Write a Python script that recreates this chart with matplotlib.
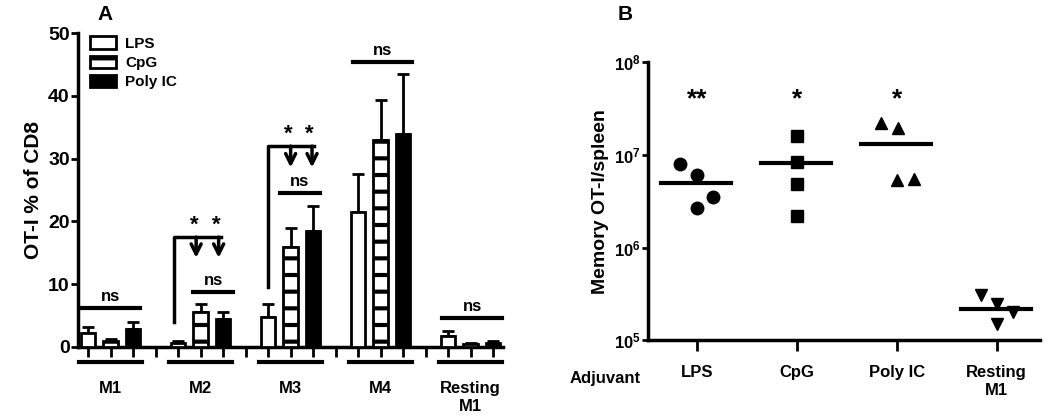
import matplotlib.pyplot as plt
import matplotlib.transforms as mtransforms
from matplotlib.patches import Patch
import numpy as np

plt.rcParams['font.family'] = ['Liberation Sans', 'DejaVu Sans']
plt.rcParams['font.weight'] = 'bold'
plt.rcParams['mathtext.default'] = 'bf'
plt.rcParams['hatch.linewidth'] = 3.0

# Panel A data (OT-I % of CD8)
groups = ["M1", "M2", "M3", "M4", "Resting\nM1"]
adjuvants = ["LPS", "CpG", "Poly IC"]
lps_mean = [2.2, 0.7, 4.8, 21.5, 1.8]
lps_err = [0.9, 0.2, 2.0, 6.0, 0.8]
cpg_mean = [1.0, 5.5, 16.0, 33.0, 0.5]
cpg_err = [0.2, 1.3, 3.0, 6.3, 0.2]
poly_mean = [2.8, 4.5, 18.5, 34.0, 0.7]
poly_err = [1.2, 1.0, 4.0, 9.5, 0.3]

# Panel B data (memory OT-I per spleen)
b_categories = ["LPS", "CpG", "Poly IC", "Resting\nM1"]
b_lps = [8.0e6, 6.0e6, 2.7e6, 3.5e6]
b_cpg = [1.6e7, 8.3e6, 4.9e6, 2.2e6]
b_poly = [2.2e7, 1.95e7, 5.4e6, 5.5e6]
b_rest = [3.1e5, 2.45e5, 2.0e5, 1.5e5]
b_median = [5.0e6, 8.1e6, 1.3e7, 2.15e5]
b_stars = ["**", "*", "*", ""]

fig = plt.figure(figsize=(10.5, 4.2), dpi=100)

# ---------------- Panel A ----------------
ax = fig.add_axes([0.0743, 0.174, 0.405, 0.747])
lw = 2.5
slot = 4  # 3 bars + 1 gap per group
base = np.arange(len(groups)) * slot
w = 0.65

series = [
    (lps_mean, lps_err, dict(facecolor="white", edgecolor="black")),
    (cpg_mean, cpg_err, dict(facecolor="white", edgecolor="black", hatch="-")),
    (poly_mean, poly_err, dict(facecolor="black", edgecolor="black")),
]
for i, (m, e, style) in enumerate(series):
    x = base + i
    ax.bar(x, m, width=w, linewidth=2, zorder=3, **style)
    ax.errorbar(x, m, yerr=[np.zeros(len(m)), e], fmt="none", ecolor="black",
                elinewidth=2, capsize=4, capthick=2, zorder=2)

ax.set_xlim(-0.45, 18.45)
ax.set_ylim(0, 50)
ax.set_yticks([0, 10, 20, 30, 40, 50])
ax.set_xticks(np.arange(19))
ax.set_xticklabels([])
ax.tick_params(axis="x", direction="out", length=7, width=2)
ax.tick_params(axis="y", direction="out", length=5, width=2, labelsize=14, pad=1)
for lab in ax.get_yticklabels():
    lab.set_fontweight("bold")
ax.spines["top"].set_visible(False)
ax.spines["right"].set_visible(False)
ax.spines["left"].set_linewidth(lw)
ax.spines["bottom"].set_linewidth(lw)
ax.set_ylabel("OT-I % of CD8", fontsize=15, fontweight="bold", labelpad=4)

# group underlines and labels below the axis
trans = mtransforms.blended_transform_factory(ax.transData, ax.transAxes)
for g, b0 in zip(groups, base):
    ax.plot([b0 - 0.4, b0 + 2.4], [-0.048, -0.048], color="black", lw=3,
            transform=trans, clip_on=False)
    ax.text(b0 + 1, -0.11, g, transform=trans, ha="center", va="top",
            fontsize=12, fontweight="bold", linespacing=1.2)

# ns bars
ns_bars = [(-0.27, 2.3, 6.2), (4.67, 6.44, 8.8), (8.53, 10.3, 24.5),
           (11.78, 14.4, 45.4), (15.73, 18.4, 4.6)]
for x0, x1, y in ns_bars:
    ax.plot([x0, x1], [y, y], color="black", lw=3, clip_on=False)
    ax.text((x0 + x1) / 2, y + 0.6, "ns", ha="center", va="bottom",
            fontsize=12, fontweight="bold")

# significance brackets with arrows
brackets = [(3.8, [4.8, 5.8], 4.0, 17.5, 14.2),
            (8.0, [9.0, 9.95], 9.6, 32.0, 28.6)]
for xv, arrows, ylow, ytop, yend in brackets:
    ax.plot([xv, xv, arrows[-1] + 0.1], [ylow, ytop, ytop], color="black", lw=2.5)
    for xa in arrows:
        ax.annotate("", xy=(xa, yend), xytext=(xa, ytop),
                    arrowprops=dict(arrowstyle="->", lw=2.5, color="black",
                                    mutation_scale=18, shrinkA=0, shrinkB=0))
        ax.text(xa - 0.1, ytop + 0.3, "*", ha="center", va="bottom",
                fontsize=16, fontweight="bold")

leg_handles = [Patch(facecolor="white", edgecolor="black", linewidth=2),
               Patch(facecolor="white", edgecolor="black", linewidth=2, hatch="-"),
               Patch(facecolor="black", edgecolor="black", linewidth=2)]
ax.legend(leg_handles, adjuvants, loc="upper left", bbox_to_anchor=(0.028, 0.99),
          frameon=False, borderpad=0, borderaxespad=0, handlelength=1.7,
          handleheight=0.9, labelspacing=0.3, handletextpad=0.6,
          prop=dict(size=11, weight="bold"))

fig.text(0.1, 0.965, "A", fontsize=15, fontweight="bold", ha="center", va="center")

# ---------------- Panel B ----------------
bx = fig.add_axes([0.617, 0.19, 0.373, 0.662])
bx.set_yscale("log")
bx.set_ylim(1e5, 1e8)
bx.set_xlim(-0.49, 3.43)

ms = 9
jitter_lps = np.array([-0.17, 0, 0, 0.16])
jitter_cpg = np.array([0, 0, 0, 0])
jitter_poly = np.array([-0.16, 0.01, 0, 0.17])
jitter_rest = np.array([-0.16, 0, 0.16, 0])
bx.plot(0 + jitter_lps, b_lps, "o", color="black", ms=ms)
bx.plot(1 + jitter_cpg, b_cpg, "s", color="black", ms=ms - 1)
bx.plot(2 + jitter_poly, b_poly, "^", color="black", ms=ms)
bx.plot(3 + jitter_rest, b_rest, "v", color="black", ms=ms)
for i, med in enumerate(b_median):
    bx.plot([i - 0.36, i + 0.34], [med, med], color="black", lw=3)
    if b_stars[i]:
        bx.text(i, 4.0e7, b_stars[i], ha="center", va="center",
                fontsize=19, fontweight="bold")

bx.set_xticks(range(len(b_categories)))
bx.set_xticklabels(b_categories, fontsize=12, fontweight="bold", linespacing=1.2)
bx.set_yticks([1e5, 1e6, 1e7, 1e8])
bx.yaxis.set_minor_locator(plt.NullLocator())
bx.tick_params(axis="x", direction="out", length=8, width=2, pad=10)
bx.tick_params(axis="y", direction="out", length=4, width=2, labelsize=12, pad=1)
bx.spines["top"].set_visible(False)
bx.spines["right"].set_visible(False)
bx.spines["left"].set_linewidth(lw)
bx.spines["bottom"].set_linewidth(lw)
bx.set_ylabel("Memory OT-I/spleen", fontsize=14, fontweight="bold", labelpad=4)
btrans = mtransforms.blended_transform_factory(bx.transAxes, bx.transAxes)
bx.text(-0.11, -0.11, "Adjuvant", transform=btrans, ha="center", va="top",
        fontsize=12, fontweight="bold")

fig.text(0.595, 0.965, "B", fontsize=15, fontweight="bold", ha="center", va="center")

fig.savefig("out.png", dpi=100)
